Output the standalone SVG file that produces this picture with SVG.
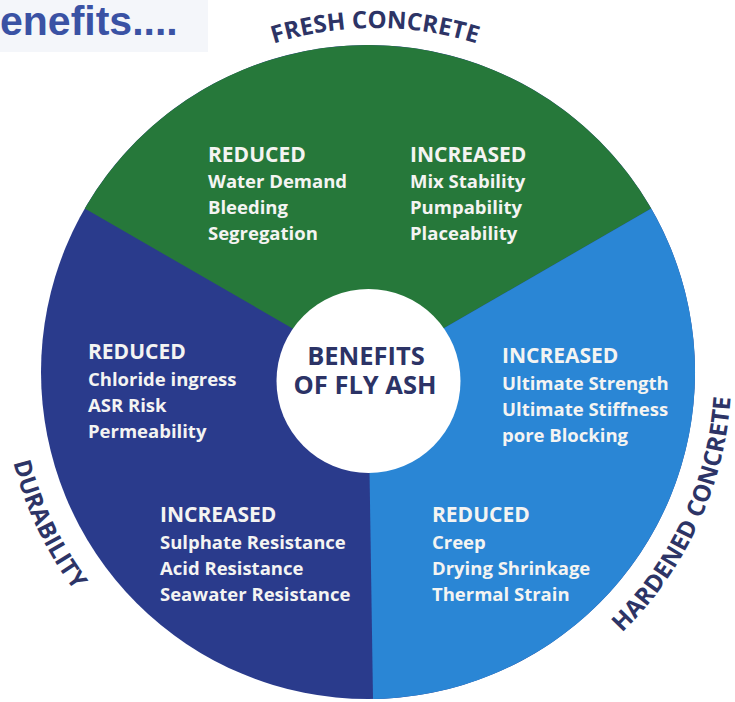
<svg xmlns="http://www.w3.org/2000/svg" width="735" height="702" viewBox="0 0 735 702">
  <style>
    .head { font-family: "Open Sans", "Liberation Sans", sans-serif; font-weight: 700; font-size: 21px; fill: #f4f4f2; }
    .item { font-family: "Open Sans", "Liberation Sans", sans-serif; font-weight: 700; font-size: 18.5px; fill: #f4f4f2; }
    .arc  { font-family: "Open Sans", "Liberation Sans", sans-serif; font-weight: 700; font-size: 24px; fill: #2d3466; }
    .hub  { font-family: "Open Sans", "Liberation Sans", sans-serif; font-weight: 700; font-size: 25.5px; fill: #2c3366; text-anchor: middle; }
    .title { font-family: "Liberation Sans", Arial, sans-serif; font-weight: 700; font-size: 41px; fill: #3a52a4; }
  </style>
  <defs>
    <!-- baselines for the curved category labels -->
    <path id="arcTop" d="M 25 388 A 350 360 0 0 1 725 388"/>
    <path id="arcRight" d="M 494.4 713.5 A 363 363 0 0 0 709.1 247.8"/>
    <path id="arcLeft" d="M 3.4 340.1 A 366 366 0 0 0 163.3 675.4"/>
  </defs>

  <rect width="735" height="702" fill="#ffffff"/>

  <!-- heading strip -->
  <g id="heading">
    <rect x="0" y="0" width="208" height="52" fill="#f4f6fa"/>
    <text class="title" x="0" y="35">enefits....</text>
  </g>

  <!-- durability sector (base disc) -->
  <g id="durability">
    <circle cx="368" cy="372" r="327" fill="#2a3b8c"/>
    <text class="head" x="88" y="359">REDUCED</text>
    <text class="item" x="88" y="386">Chloride ingress</text>
    <text class="item" x="88" y="412">ASR Risk</text>
    <text class="item" x="88" y="438">Permeability</text>
    <text class="head" x="160" y="522">INCREASED</text>
    <text class="item" x="160" y="549">Sulphate Resistance</text>
    <text class="item" x="160" y="575">Acid Resistance</text>
    <text class="item" x="160" y="601">Seawater Resistance</text>
    <text class="arc"><textPath href="#arcLeft" startOffset="50%" text-anchor="middle">DURABILITY</textPath></text>
  </g>

  <!-- fresh concrete sector -->
  <g id="fresh-concrete">
    <path d="M 368 372 L 84.8 208.5 A 327 327 0 0 1 651.2 208.5 Z" fill="#26783a"/>
    <text class="head" x="208" y="162">REDUCED</text>
    <text class="item" x="208" y="188">Water Demand</text>
    <text class="item" x="208" y="214">Bleeding</text>
    <text class="item" x="208" y="240">Segregation</text>
    <text class="head" x="410" y="162">INCREASED</text>
    <text class="item" x="410" y="188">Mix Stability</text>
    <text class="item" x="410" y="214">Pumpability</text>
    <text class="item" x="410" y="240">Placeability</text>
    <text class="arc"><textPath href="#arcTop" startOffset="50%" text-anchor="middle">FRESH CONCRETE</textPath></text>
  </g>

  <!-- hardened concrete sector -->
  <g id="hardened-concrete">
    <path d="M 368 372 L 651.2 208.5 A 327 327 0 0 1 373 699 Z" fill="#2a86d5"/>
    <text class="head" x="502" y="363">INCREASED</text>
    <text class="item" x="502" y="390">Ultimate Strength</text>
    <text class="item" x="502" y="416">Ultimate Stiffness</text>
    <text class="item" x="502" y="442">pore Blocking</text>
    <text class="head" x="432" y="522">REDUCED</text>
    <text class="item" x="432" y="549">Creep</text>
    <text class="item" x="432" y="575">Drying Shrinkage</text>
    <text class="item" x="432" y="601">Thermal Strain</text>
    <text class="arc"><textPath href="#arcRight" startOffset="50%" text-anchor="middle">HARDENED CONCRETE</textPath></text>
  </g>

  <!-- central hub -->
  <g id="hub">
    <circle cx="368.5" cy="381" r="92" fill="#ffffff"/>
    <text class="hub" x="366" y="365">BENEFITS</text>
    <text class="hub" x="365" y="394">OF FLY ASH</text>
  </g>
</svg>
